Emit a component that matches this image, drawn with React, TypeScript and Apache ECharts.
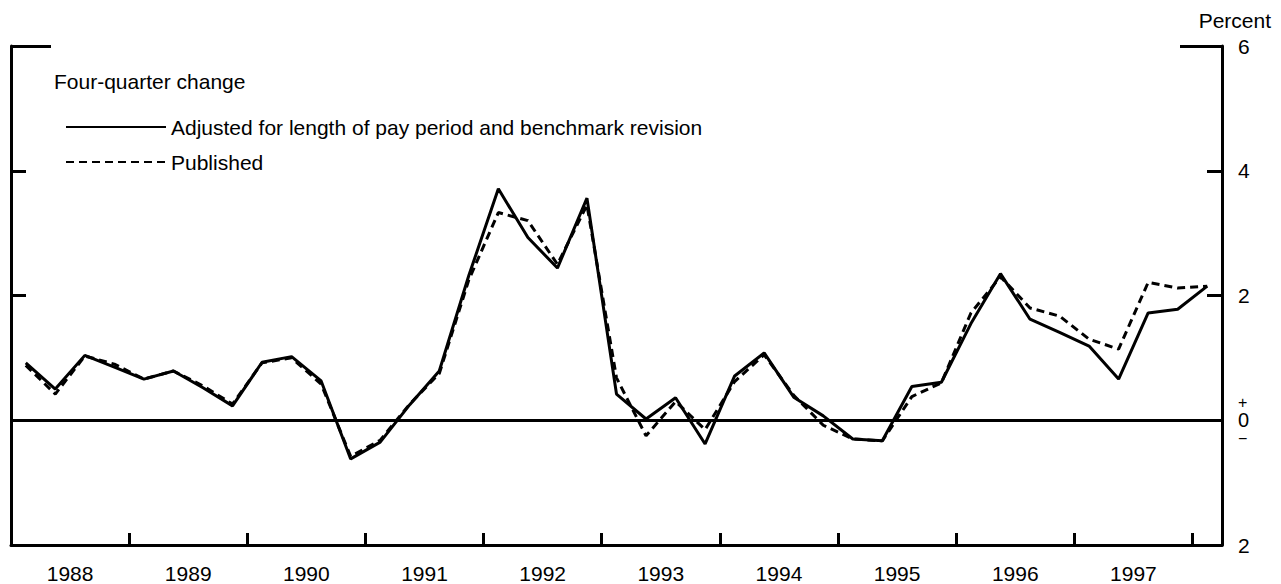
import React, { useEffect, useRef } from "react";
import * as echarts from "echarts";

// Quarterly observations, 1988:Q1 – 1998:Q1
const quarters: string[] = [];
for (let y = 1988; y <= 1998; y++) for (let q = 1; q <= 4; q++) if (quarters.length < 41) quarters.push(`${y}Q${q}`);

const adjusted = [
  0.92, 0.5, 1.04, 0.85, 0.66, 0.79, 0.52, 0.23, 0.93, 1.02, 0.63, -0.62, -0.35, 0.25, 0.79, 2.32,
  3.71, 2.93, 2.44, 3.56, 0.42, 0.02, 0.36, -0.38, 0.71, 1.08, 0.37, 0.07, -0.3, -0.33, 0.54, 0.61,
  1.55, 2.35, 1.62, 1.41, 1.19, 0.66, 1.72, 1.78, 2.15,
];
const published = [
  0.88, 0.42, 1.03, 0.9, 0.66, 0.79, 0.55, 0.26, 0.92, 1.0, 0.58, -0.58, -0.32, 0.26, 0.75, 2.25,
  3.33, 3.2, 2.5, 3.45, 0.68, -0.25, 0.3, -0.15, 0.62, 1.05, 0.4, -0.08, -0.3, -0.33, 0.38, 0.6,
  1.72, 2.3, 1.8, 1.67, 1.3, 1.14, 2.21, 2.12, 2.15,
];
const years = ["1988", "1989", "1990", "1991", "1992", "1993", "1994", "1995", "1996", "1997"];
const yTicks = [-2, 0, 2, 4, 6];
const seriesNames = ["Adjusted for length of pay period and benchmark revision", "Published"];
const titleText = "Four-quarter change";
const unitText = "Percent";

const FONT = "'Liberation Sans', Arial, Helvetica, sans-serif";

export default function App() {
  const ref = useRef<HTMLDivElement>(null);
  useEffect(() => {
    if (!ref.current) return;
    const chart = echarts.init(ref.current, null, { renderer: "svg" });
    const toPts = (arr: number[]) => arr.map((v, i) => [i + 0.5, v]);
    const yearTickVals = years.slice(1).map((_, i) => (i + 1) * 4).concat([40]);
    const yearLabelVals = years.map((_, i) => i * 4 + 2);
    const axisLine = { show: true, onZero: false, lineStyle: { color: "#000", width: 3 } };
    chart.setOption({
      animation: false,
      backgroundColor: "#fff",
      textStyle: { fontFamily: FONT, color: "#000" },
      grid: { left: 11, right: 59, top: 46, bottom: 38, containLabel: false },
      title: [
        { text: titleText, left: 49, top: 66, textStyle: { fontFamily: FONT, fontSize: 21, fontWeight: "normal", color: "#000" } },
        { text: unitText, right: 5, top: 5, textStyle: { fontFamily: FONT, fontSize: 21, fontWeight: "normal", color: "#000" } },
      ],
      legend: {
        orient: "vertical",
        left: 65,
        top: 115,
        padding: 0,
        itemGap: 11,
        itemWidth: 100,
        itemHeight: 14,
        itemStyle: { opacity: 0 },
        textStyle: { fontFamily: FONT, fontSize: 21, color: "#000", lineHeight: 24 },
        data: seriesNames,
      },
      xAxis: {
        type: "value",
        min: 0,
        max: quarters.length,
        axisLine,
        splitLine: { show: false },
        axisTick: { show: true, inside: true, length: 12, customValues: yearTickVals, lineStyle: { color: "#000", width: 3 } },
        axisLabel: {
          show: true,
          customValues: yearLabelVals,
          margin: 18,
          fontSize: 21,
          color: "#000",
          fontFamily: FONT,
          formatter: (v: number) => years[Math.round((v - 2) / 4)] ?? "",
        },
      },
      yAxis: [
        {
          type: "value", position: "left", min: -2, max: 6, interval: 2,
          axisLine, splitLine: { show: false },
          axisTick: { show: true, inside: true, length: 15, customValues: [2, 4], lineStyle: { color: "#000", width: 3 } },
          axisLabel: { show: false },
        },
        {
          type: "value", position: "right", min: -2, max: 6, interval: 2,
          axisLine, splitLine: { show: false },
          axisTick: { show: true, inside: true, length: 15, customValues: [2, 4], lineStyle: { color: "#000", width: 3 } },
          axisLabel: {
            show: true, margin: 16, fontFamily: FONT, color: "#000", customValues: yTicks,
            formatter: (v: number) => (v === 0 ? "{p|+}\n{z|0}\n{p|−}" : `{n|${Math.abs(v)}}`),
            rich: {
              p: { fontSize: 16, lineHeight: 16, fontFamily: FONT, color: "#000" },
              z: { fontSize: 20, lineHeight: 20, fontFamily: FONT, color: "#000" },
              n: { fontSize: 21, fontFamily: FONT, color: "#000" },
            },
          },
        },
        {
          type: "value", position: "left", min: -2, max: 6, interval: 2,
          axisLine: { show: false }, splitLine: { show: false },
          axisTick: { show: true, inside: true, length: 40, customValues: [6], lineStyle: { color: "#000", width: 3 } },
          axisLabel: { show: false },
        },
        {
          type: "value", position: "right", min: -2, max: 6, interval: 2,
          axisLine: { show: false }, splitLine: { show: false },
          axisTick: { show: true, inside: true, length: 42, customValues: [6], lineStyle: { color: "#000", width: 3 } },
          axisLabel: { show: false },
        },
      ],
      series: [
        {
          name: seriesNames[0],
          type: "line",
          data: toPts(adjusted),
          symbol: "none",
          lineStyle: { color: "#000", width: 3, type: "solid" },
          itemStyle: { color: "#000" },
          z: 3,
          markLine: {
            silent: true,
            symbol: "none",
            label: { show: false },
            lineStyle: { color: "#000", width: 3, type: "solid" },
            data: [{ yAxis: 0 }],
          },
        },
        {
          name: seriesNames[1],
          type: "line",
          data: toPts(published),
          symbol: "none",
          lineStyle: { color: "#000", width: 3, type: [8, 5] },
          itemStyle: { color: "#000" },
          z: 2,
        },
      ],
    });
    return () => chart.dispose();
  }, []);
  return <div ref={ref} style={{ position: "absolute", left: 0, top: 0, width: 1281, height: 584 }} />;
}
